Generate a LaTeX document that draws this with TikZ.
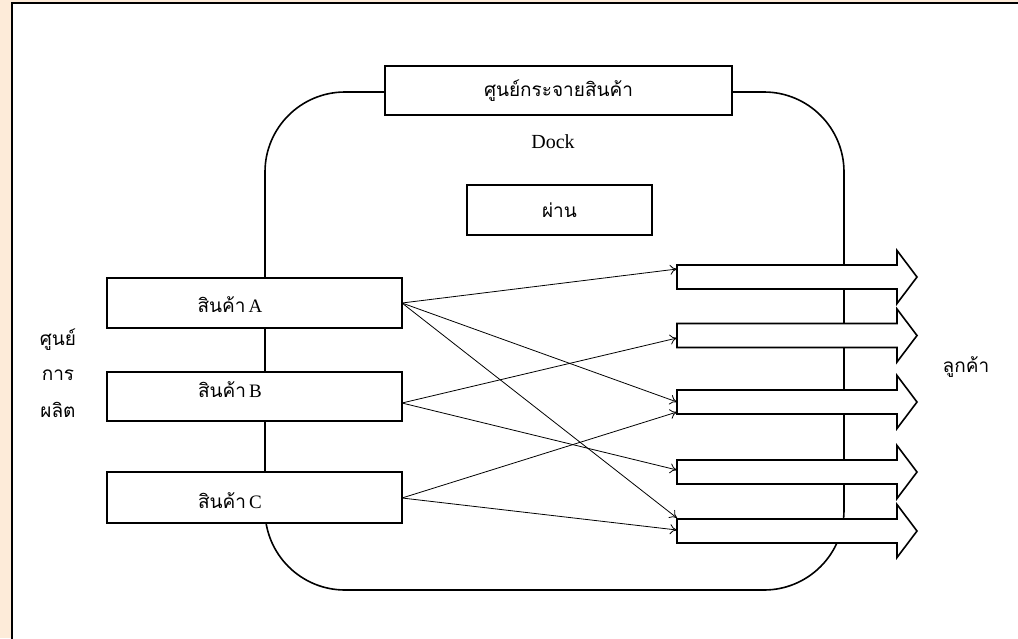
\documentclass[tikz,border=0pt]{standalone}
\usepackage{fontspec}
\setmainfont{Liberation Serif}
\newfontfamily\thai[Script=Thai]{Loma}
\usetikzlibrary{arrows.meta}
\definecolor{beige}{HTML}{FDEBD9}
\tikzset{
  box/.style={draw, line width=1.6pt, fill=white, inner sep=0pt},
  lbl/.style={inner sep=0pt, font=\thai\fontsize{19}{22}\selectfont},
  conn/.style={line width=0.8pt, -{To[length=7pt,width=10pt]}},
  blk/.style={draw, line width=1.6pt, fill=white, line join=miter},
}
\newcommand{\lat}[1]{{\rmfamily\fontsize{19}{22}\selectfont #1}}
\newcommand{\blkarrow}[2]{%
  \draw[blk] (677,#1-12) -- (897,#1-12) -- (897,#1-26.5) -- (917,#1)
    -- (897,#1+26.5) -- (897,#1+12) -- (677,#1+12) -- cycle;
  \coordinate (#2) at (677,#1);}
\begin{document}
\begin{tikzpicture}[x=1pt,y=-1pt]
\useasboundingbox (0,0) rectangle (1018,638);
\fill[beige] (0,0) rectangle (1018,638);
\draw[line width=1.6pt, fill=white] (12,3) rectangle (1030,650);
% distribution centre outline
\draw[line width=1.6pt, rounded corners=80pt] (265,92) rectangle (844,590);
% top title box
\node[box, minimum width=347pt, minimum height=49pt] (dc) at (558.5,90.5) {};
\node[lbl] (dct) at (dc.center) {ศูนย์กระจายสินค้า};
\node[inner sep=0pt, font=\fontsize{20}{22}\selectfont] (dock) at (553,142) {Dock};
\node[box, minimum width=185pt, minimum height=50pt] (pass) at (559.5,210) {};
\node[lbl] (passt) at (pass.center) {ผ่าน};
% product boxes
\node[box, minimum width=295pt, minimum height=50pt] (A) at (254.5,303) {};
\node[box, minimum width=295pt, minimum height=49pt] (B) at (254.5,396.5) {};
\node[box, minimum width=295pt, minimum height=51pt] (C) at (254.5,497.5) {};
\node[lbl] (At) at (230,305) {สินค้า\,\lat{A}};
\node[lbl] (Bt) at (230,390) {สินค้า\,\lat{B}};
\node[lbl] (Ct) at (230,501) {สินค้า\,\lat{C}};
% production centre label
\node[lbl] (p1) at (58,340) {ศูนย์};
\node[lbl] (p2) at (58,375) {การ};
\node[lbl] (p3) at (58,410) {ผลิต};
% customer label
\node[lbl] (cust) at (966,367) {ลูกค้า};
% block arrows
\blkarrow{277}{r1}
\blkarrow{335.5}{r2}
\blkarrow{402}{r3}
\blkarrow{472}{r4}
\blkarrow{531}{r5}
% connectors
\coordinate (a0) at (402,303);
\coordinate (b0) at (402,403);
\coordinate (c0) at (402,498);
\draw[conn] (a0) -- ([yshift=8pt]r1);
\draw[conn] (a0) -- (r3);
\draw[conn] (a0) -- ([yshift=13pt]r5);
\draw[conn] (b0) -- ([yshift=-2.5pt]r2);
\draw[conn] (b0) -- ([yshift=2pt]r4);
\draw[conn] (c0) -- ([yshift=-10pt]r3);
\draw[conn] (c0) -- ([yshift=1pt]r5);
\end{tikzpicture}
\end{document}
